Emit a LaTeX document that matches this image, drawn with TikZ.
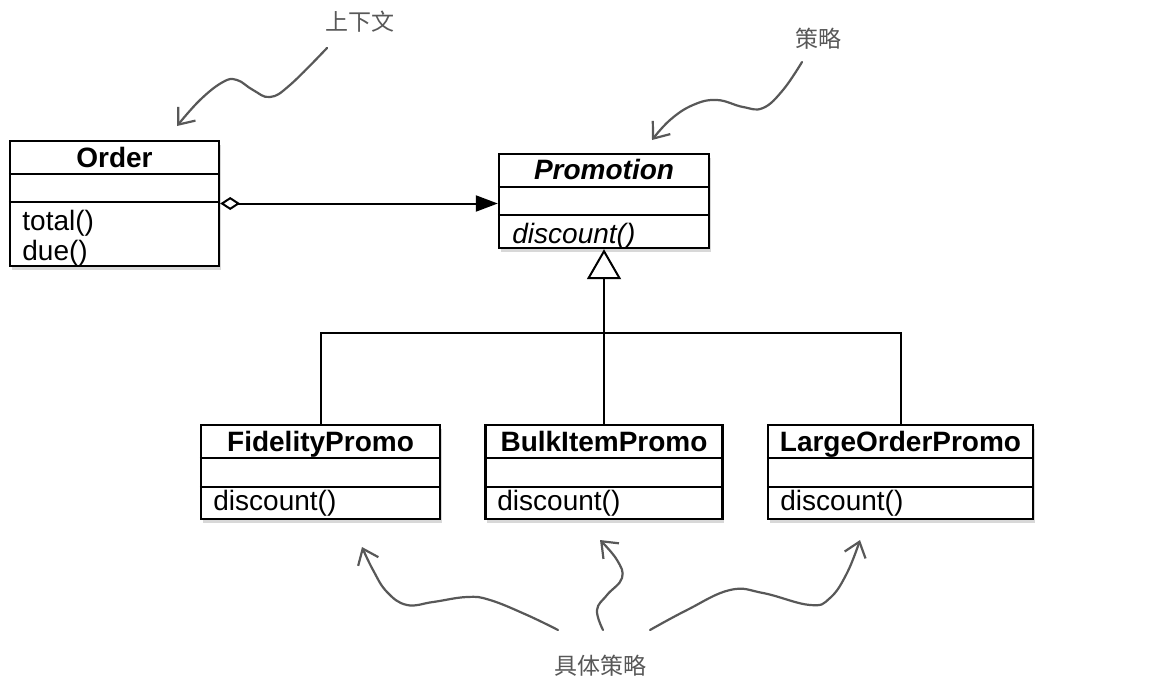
\documentclass[tikz,border=0pt]{standalone}
\usepackage{fontspec}
\usepackage{xcolor}
\usepackage{tikz}
\usetikzlibrary{arrows.meta,shadows}
\newfontfamily\umlfont{Liberation Sans}
\newfontfamily\cjk{Noto Sans CJK SC}
\newcommand\umlsize{\fontsize{14}{16}\selectfont}
\definecolor{cNote}{RGB}{88,88,88}
\tikzset{
  classframe/.style={draw,line width=1.2pt,fill=white,inner sep=0pt,
    drop shadow={shadow xshift=0.8pt,shadow yshift=-1.8pt,opacity=0.3}},
  classname/.style={anchor=base,inner sep=0pt,font=\umlfont\umlsize\bfseries},
  abstractname/.style={anchor=base,inner sep=0pt,font=\umlfont\umlsize\bfseries\itshape},
  member/.style={anchor=base west,inner sep=0pt,font=\umlfont\umlsize},
  abstractmember/.style={anchor=base west,inner sep=0pt,font=\umlfont\umlsize\itshape},
  divider/.style={line width=1pt},
  link/.style={line width=1pt},
  note/.style={cNote,line width=1.1pt,line cap=round,-{Straight Barb[length=7pt,width=11pt]}},
  notetext/.style={cNote,inner sep=0pt,font=\cjk\fontsize{11.5}{13}\selectfont}
}

\begin{document}
\begin{tikzpicture}[x=0.5pt,y=-0.5pt]
\useasboundingbox (0,0) rectangle (1149,685);
\fill[white] (0,0) rectangle (1149,685);
% context class
\node[classframe,minimum width=104.5pt,minimum height=62.5pt] (order) at (114.5,203.5) {};
\draw[divider] (order.west |- 0,174) -- (order.east |- 0,174);
\draw[divider] (order.west |- 0,202) -- (order.east |- 0,202);
\node[classname] (order-name) at (114.5,167) {Order};
\node[member] (order-total) at (22,230) {total()};
\node[member] (order-due) at (22,260) {due()};
% strategy
\node[classframe,minimum width=105pt,minimum height=47pt] (promo) at (604,201) {};
\draw[divider] (promo.west |- 0,187) -- (promo.east |- 0,187);
\draw[divider] (promo.west |- 0,215) -- (promo.east |- 0,215);
\node[abstractname] (promo-name) at (604,179) {Promotion};
\node[abstractmember] (promo-discount) at (512,243) {discount()};
% concrete strategies
\node[classframe,minimum width=119.5pt,minimum height=47pt] (fidelity) at (320.5,472) {};
\draw[divider] (fidelity.west |- 0,458) -- (fidelity.east |- 0,458);
\draw[divider] (fidelity.west |- 0,487) -- (fidelity.east |- 0,487);
\node[classname] (fidelity-name) at (320.5,451) {FidelityPromo};
\node[member] (fidelity-discount) at (213,510) {discount()};
\node[classframe,minimum width=118.5pt,minimum height=47pt] (bulk) at (604,472) {};
\draw[divider] (bulk.west |- 0,458) -- (bulk.east |- 0,458);
\draw[divider] (bulk.west |- 0,487) -- (bulk.east |- 0,487);
\node[classname] (bulk-name) at (604,451) {BulkItemPromo};
\node[member] (bulk-discount) at (497,510) {discount()};
\node[classframe,minimum width=132.5pt,minimum height=47pt] (large) at (900.5,472) {};
\draw[divider] (large.west |- 0,458) -- (large.east |- 0,458);
\draw[divider] (large.west |- 0,487) -- (large.east |- 0,487);
\node[classname] (large-name) at (900.5,451) {LargeOrderPromo};
\node[member] (large-discount) at (780,510) {discount()};
% relations
\draw[link,{Diamond[open,length=10pt,width=6.5pt]}-{Triangle[length=11pt,width=8pt]}] (order.east) -- (order.east -| promo.west);
\coordinate (fork) at (604,333);
\draw[link] (fidelity.north) |- (fork) -| (large.north);
\draw[link,-{Triangle[open,length=15pt,width=17pt]}] (bulk.north) -- (promo.south);
% notes
\node[notetext] (ctx) at (360,22) {上下文};
\node[notetext] (strat) at (818,39) {策略};
\node[notetext] (concrete) at (600,666) {具体策略};
\coordinate (ctx-from) at (327,48);
\coordinate (ctx-to) at (177,126);
\coordinate (strat-from) at (802,62);
\coordinate (strat-to) at (652,140);
\coordinate (fid-from) at (558,630);
\coordinate (fid-to) at (362,547);
\coordinate (bulk-from) at (603,630);
\coordinate (bulk-to) at (600,540);
\coordinate (large-from) at (650,630);
\coordinate (large-to) at (860,540);
\draw[note] plot[smooth,tension=0.7] coordinates {(ctx-from) (290,85) (270,97) (253,90) (237,80) (223,82) (200,100) (ctx-to)};
\draw[note] plot[smooth,tension=0.7] coordinates {(strat-from) (783,90) (763,108) (743,107) (717,100) (693,105) (670,120) (strat-to)};
\draw[note] plot[smooth,tension=0.7] coordinates {(fid-from) (527,615) (490,600) (467,597) (433,602) (407,605) (387,592) (373,570) (fid-to)};
\draw[note] plot[smooth,tension=0.7] coordinates {(bulk-from) (597,610) (607,595) (622,578) (617,560) (bulk-to)};
\draw[note] plot[smooth,tension=0.7] coordinates {(large-from) (687,610) (730,590) (763,593) (810,605) (830,598) (847,573) (large-to)};
\end{tikzpicture}
\end{document}
